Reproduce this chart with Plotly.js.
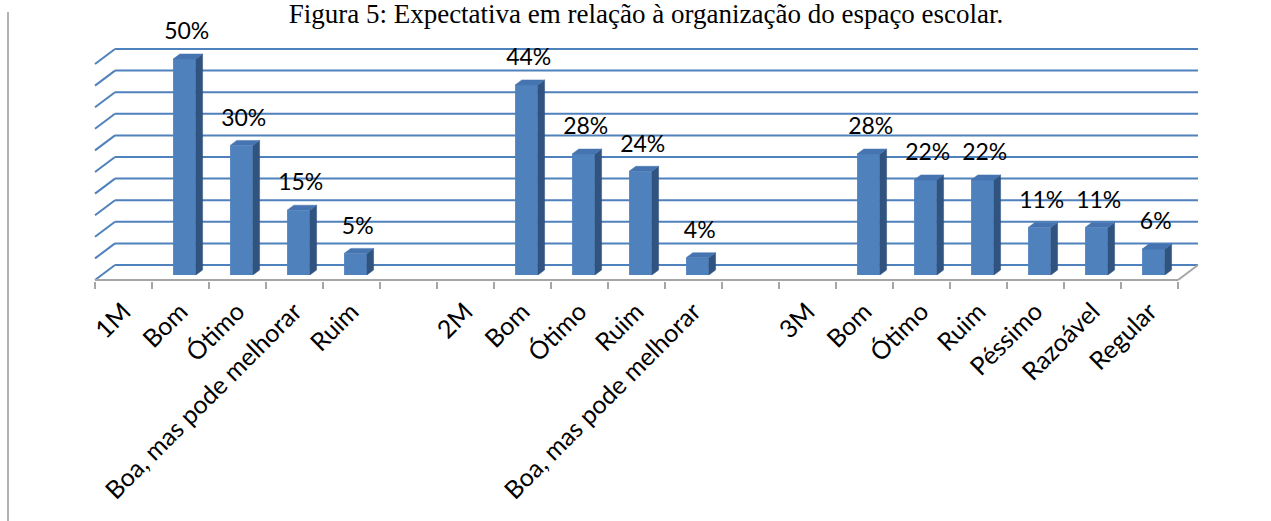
<!DOCTYPE html>
<html><head><meta charset="utf-8">
<script src="https://cdn.plot.ly/plotly-3.0.1.min.js"></script>
<style>html,body{margin:0;padding:0;background:#fff}#chart{width:1271px;height:521px}</style>
</head><body><div id="chart"></div>
<script>
const categories = ['1M','Bom','Ótimo','Boa, mas pode melhorar','Ruim','','2M','Bom','Ótimo','Ruim','Boa, mas pode melhorar','','3M','Bom','Ótimo','Ruim','Péssimo','Razoável','Regular'];
const values = [null,50,30,15,5,null,null,44,28,24,4,null,null,28,22,22,11,11,6];
const gridValues = [0,5,10,15,20,25,30,35,40,45,50];
const titleText = 'Figura 5: Expectativa em relação à organização do espaço escolar.';

// ---- geometry (pixel scale -> data units) ----
const W = 1271, H = 521;
const pxPerCat = 57, pxPerPct = 4.32;
const x0px = 95, zeroPx = 275;
const xMin = -0.1, xMax = 19.45;
const yBottomPx = 281, yTopPx = 30;
const yMin = -(yBottomPx - zeroPx) / pxPerPct, yMax = (zeroPx - yTopPx) / pxPerPct;
const floorDX = 20 / pxPerCat, floorDY = 15 / pxPerPct;
const frontY = -5 / pxPerPct;
const barDX = 6.7 / pxPerCat, barDY = 5 / pxPerPct;
const barLeft = -0.13, barWidth = 0.40;
const labelLift = 9 / pxPerPct;
const nCat = categories.length;

const xs = categories.map((_, i) => i + 0.5);

// side and top faces built from the values
const sideX = [], sideY = [], topX = [], topY = [], labX = [], labY = [], labT = [];
values.forEach((v, i) => {
  if (v === null) return;
  const xl = xs[i] + barLeft, xr = xl + barWidth;
  sideX.push(xr, xr, xr + barDX, xr + barDX, xr, null);
  sideY.push(0, v, v + barDY, barDY, 0, null);
  topX.push(xl, xr, xr + barDX, xl + barDX, xl, null);
  topY.push(v, v, v + barDY, v + barDY, v, null);
  labX.push(xl + (barWidth + barDX) / 2 - 0.02);
  labY.push(v + barDY + labelLift);
  labT.push(v + '%');
});

const shapes = [];
const blue = '#4F81BD';
gridValues.forEach(g => {
  shapes.push({type: 'line', xref: 'x', yref: 'y', layer: 'below', x0: 0, y0: g + frontY, x1: floorDX, y1: g + frontY + floorDY, line: {color: blue, width: 2}});
  shapes.push({type: 'line', xref: 'x', yref: 'y', layer: 'below', x0: floorDX, y0: g + frontY + floorDY, x1: nCat + floorDX, y1: g + frontY + floorDY, line: {color: blue, width: 2}});
});
shapes.push({type: 'line', xref: 'x', yref: 'y', layer: 'below', x0: 0, y0: frontY, x1: nCat, y1: frontY, line: {color: '#a6a6a6', width: 2}});
shapes.push({type: 'line', xref: 'x', yref: 'y', layer: 'below', x0: nCat, y0: frontY, x1: nCat + floorDX, y1: frontY + floorDY, line: {color: '#a6a6a6', width: 2}});
// page border line on the left
shapes.push({type: 'line', xref: 'paper', yref: 'paper', x0: 8 / W, x1: 8 / W, y0: 0, y1: 1 - 12 / H, line: {color: '#9a9a9a', width: 1.5}});

const traces = [
  {type: 'bar', x: xs, y: values, width: barWidth, offset: barLeft, marker: {color: blue, line: {width: 0}}, hoverinfo: 'skip', showlegend: false},
  {type: 'scatter', mode: 'lines', x: sideX, y: sideY, fill: 'toself', fillcolor: '#30537f', line: {color: '#30537f', width: 0.5}, hoverinfo: 'skip', showlegend: false},
  {type: 'scatter', mode: 'lines', x: topX, y: topY, fill: 'toself', fillcolor: '#4674b0', line: {color: '#4674b0', width: 0.5}, hoverinfo: 'skip', showlegend: false},
  {type: 'scatter', mode: 'text', x: labX, y: labY, text: labT, textposition: 'top center', cliponaxis: false,
   textfont: {family: 'Lato, sans-serif', size: 23, color: '#000'}, hoverinfo: 'skip', showlegend: false}
];

const layout = {
  width: W, height: H,
  margin: {l: 0, r: 0, t: 0, b: 0},
  paper_bgcolor: '#fff', plot_bgcolor: 'rgba(0,0,0,0)',
  showlegend: false,
  title: {text: titleText, font: {family: 'Liberation Serif, Times New Roman, serif', size: 27, color: '#000'},
          x: 646 / W, xanchor: 'center', xref: 'paper', y: 1 - 14 / H, yanchor: 'middle', yref: 'container'},
  xaxis: {
    domain: [(x0px + xMin * pxPerCat) / W, (x0px + xMax * pxPerCat) / W],
    range: [xMin, xMax], showgrid: false, zeroline: false, showline: false,
    tickmode: 'array', tickvals: xs, ticktext: categories, ticks: '', tickangle: -45,
    ticklabelstandoff: 10,
    tickfont: {family: 'Lato, sans-serif', size: 25, color: '#000'},
    minor: {tickmode: 'linear', tick0: 0, dtick: 1, ticks: 'outside', ticklen: 7, tickwidth: 2, tickcolor: '#a6a6a6', showgrid: false},
    automargin: false, fixedrange: true
  },
  yaxis: {
    domain: [1 - yBottomPx / H, 1 - yTopPx / H],
    range: [yMin, yMax], showgrid: false, zeroline: false, showline: false, showticklabels: false, ticks: '',
    automargin: false, fixedrange: true
  },
  shapes: shapes
};
Plotly.newPlot('chart', traces, layout, {displayModeBar: false, staticPlot: true});
</script></body></html>
